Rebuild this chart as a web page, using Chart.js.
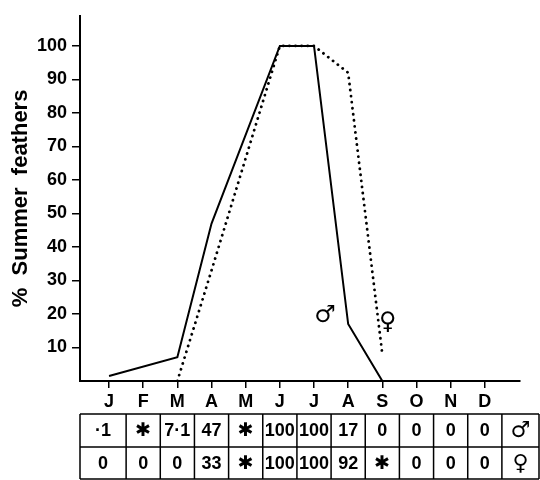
<!DOCTYPE html>
<html>
<head>
<meta charset="utf-8">
<script src="https://cdn.jsdelivr.net/npm/chart.js@4"></script>
<style>
  html, body { margin: 0; padding: 0; background: #fff; }
  canvas { display: block; }
</style>
</head>
<body>
<canvas id="myChart" width="540" height="480"></canvas>
<script>
// months along the bottom
const months = ['J', 'F', 'M', 'A', 'M', 'J', 'J', 'A', 'S', 'O', 'N', 'D'];
const yTicks = [10, 20, 30, 40, 50, 60, 70, 80, 90, 100];

// % summer feathers (null = no sample, line bridges it)
const maleLine = [1.5, null, 7.1, 47, null, 100, 100, 17, 0, null, null, null];
const femaleLine = [null, null, 0, 33, null, 100, 100, 92, 8, null, null, null];

// table under the axis
const maleRow = ['\u00b71', '\u2731', '7\u00b71', '47', '\u2731', '100', '100', '17', '0', '0', '0', '0'];
const femaleRow = ['0', '0', '0', '33', '\u2731', '100', '100', '92', '\u2731', '0', '0', '0'];
const sexSymbols = ['\u2642', '\u2640'];

// sex labels next to the lines: [symbol, month index, value]
const lineLabels = [['\u2642', 6.32, 19.5], ['\u2640', 8.16, 17.5]];

const toPoints = arr => arr.map((v, i) => ({x: i, y: v}));

const tablePlugin = {
    id: 'tablePlugin',
    afterDraw(chart) {
        const ctx = chart.ctx;
        const xs = chart.scales.x;
        const ys = chart.scales.y;
        ctx.save();

        // symbols beside the lines
        ctx.fillStyle = '#000';
        ctx.textAlign = 'center';
        ctx.textBaseline = 'middle';
        ctx.font = '24px "DejaVu Sans"';
        lineLabels.forEach(l => {
            ctx.fillText(l[0], xs.getPixelForValue(l[1]), ys.getPixelForValue(l[2]));
        });

        // table grid
        const top = 414, mid = 447, bottom = 479;
        const edges = [chart.chartArea.left];
        for (let i = 0; i < months.length; i++) edges.push(xs.getPixelForValue(i + 0.5));
        edges.push(539);
        ctx.strokeStyle = '#000';
        ctx.lineWidth = 1.5;
        ctx.beginPath();
        [top, mid, bottom].forEach(y => { ctx.moveTo(edges[0], y); ctx.lineTo(edges[edges.length - 1], y); });
        edges.forEach(x => { ctx.moveTo(x, top); ctx.lineTo(x, bottom); });
        ctx.stroke();

        const rows = [maleRow, femaleRow];
        rows.forEach((row, r) => {
            const cy = r === 0 ? (top + mid) / 2 + 1 : (mid + bottom) / 2 + 1;
            row.concat([sexSymbols[r]]).forEach((txt, c) => {
                const cx = (edges[c] + edges[c + 1]) / 2;
                if (txt === '\u2731') ctx.font = '19px "DejaVu Sans"';
                else if (c === 12) ctx.font = '22px "DejaVu Sans"';
                else ctx.font = 'bold 18px "Liberation Sans"';
                ctx.fillText(txt, cx, cy);
            });
        });
        ctx.restore();
    }
};

const data = {
    datasets: [{
        label: 'male',
        data: toPoints(maleLine),
        borderColor: '#000',
        borderWidth: 2,
        pointRadius: 0,
        spanGaps: true,
        tension: 0,
    }, {
        label: 'female',
        data: toPoints(femaleLine),
        borderColor: '#000',
        borderWidth: 2.8,
        borderDash: [0.1, 6],
        borderCapStyle: 'round',
        pointRadius: 0,
        spanGaps: true,
        tension: 0,
    }]
};

const config = {
    type: 'line',
    data: data,
    options: {
        responsive: false,
        animation: false,
        layout: {padding: {top: 12, right: 20, left: 0, bottom: 0}},
        plugins: {legend: {display: false}, tooltip: {enabled: false}},
        scales: {
            x: {
                type: 'linear',
                min: -0.85,
                max: 12.03,
                afterBuildTicks: s => { s.ticks = months.map((m, i) => ({value: i})); },
                afterFit: s => { s.height = 99; },
                ticks: {
                    callback: v => months[v],
                    color: '#000',
                    font: {family: 'Liberation Sans', size: 18, weight: 'bold'},
                    padding: 3,
                    maxRotation: 0,
                    autoSkip: false,
                },
                grid: {drawOnChartArea: false, drawTicks: true, tickLength: 7, color: '#000', lineWidth: 1.5},
                border: {display: true, color: '#000', width: 2},
            },
            y: {
                min: 0,
                max: 109,
                afterBuildTicks: s => { s.ticks = yTicks.map(v => ({value: v})); },
                afterFit: s => { s.width = 80; },
                ticks: {
                    color: '#000',
                    font: {family: 'Liberation Sans', size: 18, weight: 'bold'},
                    padding: 5,
                },
                grid: {drawOnChartArea: false, drawTicks: true, tickLength: 8, color: '#000', lineWidth: 1.5},
                border: {display: true, color: '#000', width: 2},
                title: {
                    display: true,
                    text: '%  Summer  feathers',
                    color: '#000',
                    font: {family: 'Liberation Sans', size: 22, weight: 'bold'},
                    padding: {top: 8, bottom: 0},
                },
            }
        }
    },
    plugins: [tablePlugin]
};

const myChart = new Chart(document.getElementById('myChart'), config);
</script>
</body>
</html>
